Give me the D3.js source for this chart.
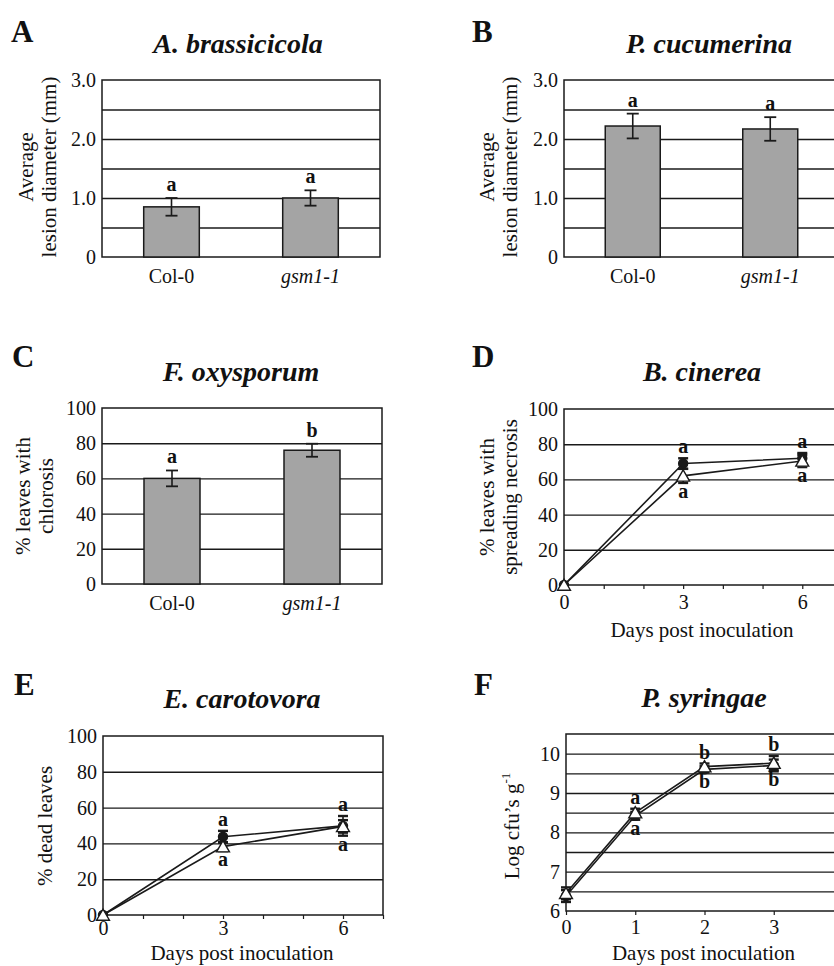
<!DOCTYPE html>
<html>
<head>
<meta charset="utf-8">
<script src="https://cdn.jsdelivr.net/npm/d3@7"></script>
<style>
body { margin: 0; background: #fff; }
svg { display: block; }
text { font-family: "Liberation Serif", "Times New Roman", serif; fill: #111; }
</style>
</head>
<body>
<div class="fig"></div>
<script>
// ---- data ----
var genotypes = ["Col-0", "gsm1-1"];

var brassicicolaLesion = [0.85, 1.0];
var brassicicolaErr = [0.15, 0.13];
var brassicicolaLetters = ["a", "a"];

var cucumerinaLesion = [2.22, 2.17];
var cucumerinaErr = [0.21, 0.2];
var cucumerinaLetters = ["a", "a"];

var oxysporumChlorosis = [60, 76];
var oxysporumErr = [4.5, 3.7];
var oxysporumLetters = ["a", "b"];

var cinereaDays = [0, 3, 6];
var cinereaCol0 = [0, 69, 72];
var cinereaCol0Err = [0, 3, 3];
var cinereaGsm = [0, 62, 70.5];
var cinereaGsmErr = [0, 4, 3.5];
var cinereaAbove = ["", "a", "a"];
var cinereaBelow = ["", "a", "a"];

var carotovoraDays = [0, 3, 6];
var carotovoraCol0 = [0, 43.7, 49.8];
var carotovoraCol0Err = [0, 3.3, 5.5];
var carotovoraGsm = [0, 38.2, 49.5];
var carotovoraGsmErr = [0, 2.5, 3.5];
var carotovoraAbove = ["", "a", "a"];
var carotovoraBelow = ["", "a", "a"];

var syringaeDays = [0, 1, 2, 3];
var syringaeCol0 = [6.38, 8.42, 9.6, 9.7];
var syringaeCol0Err = [0.15, 0.1, 0.08, 0.15];
var syringaeGsm = [6.45, 8.5, 9.67, 9.76];
var syringaeGsmErr = [0.15, 0.1, 0.08, 0.18];
var syringaeAbove = ["", "a", "b", "b"];
var syringaeBelow = ["", "a", "b", "b"];

var lesionTicks = [0, 1, 2, 3];
var lesionGrid = [0.5, 1, 1.5, 2, 2.5];
var percentTicks = [0, 20, 40, 60, 80, 100];
var percentGrid = [20, 40, 60, 80];
var cfuTicks = [6, 7, 8, 9, 10];
var cfuGrid = [6.5, 7, 7.5, 8, 8.5, 9, 9.5, 10];
var weekDays = [0, 1, 2, 3, 4, 5, 6, 7];
var weekLabels = [0, 3, 6];
var shortDays = [0, 1, 2, 3, 4];

var width = 834;
var height = 966;
var ink = "#1a1a1a";

var svg = d3.select(".fig")
    .append("svg")
    .attr("width", width)
    .attr("height", height);

function header(p) {
    svg.append("text")
        .attr("x", p.labelX).attr("y", p.labelY)
        .attr("font-size", 31).attr("font-weight", "bold")
        .text(p.id);
    svg.append("text")
        .attr("x", p.titleX).attr("y", p.titleY)
        .attr("text-anchor", "middle")
        .attr("font-size", 28).attr("font-weight", "bold").attr("font-style", "italic")
        .text(p.title);
}

function yLabel(p) {
    var t = svg.append("text")
        .attr("transform", "translate(" + p.ylabX + "," + p.ylabY + ") rotate(-90)")
        .attr("text-anchor", "middle")
        .attr("font-size", 21);
    var n = p.ylab.length;
    p.ylab.forEach(function (line, i) {
        var ts = t.append("tspan").attr("x", 0)
            .attr("dy", i == 0 ? (0.35 - (n - 1) * 0.56) + "em" : "1.12em");
        if (typeof line == "string") {
            ts.text(line);
        } else {
            // superscript unit (g^-1)
            ts.text(line.text);
            ts.append("tspan").attr("font-size", 13).attr("dy", "-0.7em").text(line.power);
        }
    });
}

// grid lines, frame and y tick labels
function frame(p, y) {
    var g = svg.append("g");
    g.append("g")
        .attr("transform", "translate(" + p.x0 + ",0)")
        .call(d3.axisLeft(y).tickValues(p.grid).tickSize(-(p.x1 - p.x0)).tickFormat(""))
        .call(function (s) { s.select(".domain").remove(); })
        .selectAll("line")
        .attr("stroke", ink).attr("stroke-width", 1.4);

    g.append("rect")
        .attr("x", p.x0).attr("y", p.y0)
        .attr("width", p.x1 - p.x0).attr("height", p.y1 - p.y0)
        .attr("fill", "none").attr("stroke", ink).attr("stroke-width", 1.5);

    var ax = g.append("g")
        .attr("transform", "translate(" + p.x0 + ",0)")
        .call(d3.axisLeft(y).tickValues(p.ticks).tickSize(0).tickPadding(6).tickFormat(p.fmt));
    ax.select(".domain").remove();
    ax.attr("font-family", null).attr("font-size", null);
    ax.selectAll("text").attr("font-size", 20).attr("fill", "#111");
    return g;
}

function barPanel(p) {
    header(p);
    yLabel(p);
    var y = d3.scaleLinear().domain([0, p.ymax]).range([p.y1, p.y0]);
    var x = d3.scaleBand().domain(genotypes).range([p.x0, p.x1]).paddingInner(0.6).paddingOuter(0.3);
    var g = frame(p, y);

    g.selectAll(".bar")
        .data(genotypes)
        .enter()
        .append("rect")
        .attr("x", function (d) { return x(d); })
        .attr("y", function (d, i) { return y(p.values[i]); })
        .attr("width", x.bandwidth())
        .attr("height", function (d, i) { return y(0) - y(p.values[i]); })
        .attr("fill", "#a4a4a4")
        .attr("stroke", ink)
        .attr("stroke-width", 1.5);

    genotypes.forEach(function (d, i) {
        var cx = x(d) + x.bandwidth() / 2;
        var hi = y(p.values[i] + p.err[i]);
        var lo = y(p.values[i] - p.err[i]);
        g.append("line").attr("x1", cx).attr("x2", cx).attr("y1", hi).attr("y2", lo)
            .attr("stroke", ink).attr("stroke-width", 1.6);
        [hi, lo].forEach(function (yy) {
            g.append("line").attr("x1", cx - 6).attr("x2", cx + 6).attr("y1", yy).attr("y2", yy)
                .attr("stroke", ink).attr("stroke-width", 1.8);
        });
        g.append("text")
            .attr("x", cx).attr("y", hi - 7)
            .attr("text-anchor", "middle")
            .attr("font-size", 20).attr("font-weight", "bold")
            .text(p.letters[i]);
    });

    var xa = g.append("g")
        .attr("transform", "translate(0," + p.y1 + ")")
        .call(d3.axisBottom(x).tickSize(0).tickPadding(12));
    xa.select(".domain").remove();
    xa.attr("font-family", null).attr("font-size", null);
    xa.selectAll("text")
        .attr("font-size", 20).attr("fill", "#111")
        .attr("font-style", function (d) { return d == "Col-0" ? "normal" : "italic"; });
}

function linePanel(p) {
    header(p);
    yLabel(p);
    var y = d3.scaleLinear().domain(p.ydomain).range([p.y1, p.y0]);
    var x = d3.scaleLinear().domain(p.xdomain).range([p.x0, p.x1]);
    var g = frame(p, y);

    var xa = g.append("g")
        .attr("transform", "translate(0," + p.y1 + ")")
        .call(d3.axisBottom(x).tickValues(p.xticks).tickSize(4).tickPadding(p.xpad)
            .tickFormat(function (d) { return p.xlabels.indexOf(d) >= 0 ? d : ""; }));
    xa.select(".domain").remove();
    xa.attr("font-family", null).attr("font-size", null);
    xa.selectAll("line").attr("stroke", ink).attr("stroke-width", 1.2);
    xa.selectAll("text").attr("font-size", 20).attr("fill", "#111");

    svg.append("text")
        .attr("x", (p.x0 + p.x1) / 2 - 1).attr("y", p.daysY)
        .attr("text-anchor", "middle").attr("font-size", 21)
        .text("Days post inoculation");

    var line = d3.line()
        .x(function (d) { return x(d[0]); })
        .y(function (d) { return y(d[1]); });

    p.series.forEach(function (s) {
        var pts = p.days.map(function (d, i) { return [d, s.values[i]]; });
        g.append("path").datum(pts)
            .attr("d", line)
            .attr("fill", "none").attr("stroke", ink).attr("stroke-width", 1.6);
    });

    p.series.forEach(function (s) {
        p.days.forEach(function (d, i) {
            if (!s.err[i]) return;
            var cx = x(d);
            var hi = y(s.values[i] + s.err[i]);
            var lo = y(s.values[i] - s.err[i]);
            g.append("line").attr("x1", cx).attr("x2", cx).attr("y1", hi).attr("y2", lo)
                .attr("stroke", ink).attr("stroke-width", 1.6);
            [hi, lo].forEach(function (yy) {
                g.append("line").attr("x1", cx - 5).attr("x2", cx + 5).attr("y1", yy).attr("y2", yy)
                    .attr("stroke", ink).attr("stroke-width", 2.4);
            });
        });
    });

    p.series.forEach(function (s) {
        var sym = d3.symbol().type(s.shape == "circle" ? d3.symbolCircle : d3.symbolTriangle)
            .size(s.shape == "circle" ? 64 : 72);
        g.selectAll(null)
            .data(p.days)
            .enter()
            .append("path")
            .attr("d", sym)
            .attr("transform", function (d, i) {
                var off = s.shape == "circle" ? 0 : 1.5;
                return "translate(" + x(d) + "," + (y(s.values[i]) + off) + ")";
            })
            .attr("fill", s.shape == "circle" ? ink : "#fff")
            .attr("stroke", ink)
            .attr("stroke-width", 1.4);
    });

    p.days.forEach(function (d, i) {
        var tops = p.series.map(function (s) { return y(s.values[i] + s.err[i]); });
        var bots = p.series.map(function (s) { return y(s.values[i] - s.err[i]); });
        g.append("text")
            .attr("x", x(d)).attr("y", d3.min(tops) - 5)
            .attr("text-anchor", "middle").attr("font-size", 20).attr("font-weight", "bold")
            .text(p.above[i]);
        g.append("text")
            .attr("x", x(d)).attr("y", d3.max(bots) + 15)
            .attr("text-anchor", "middle").attr("font-size", 20).attr("font-weight", "bold")
            .text(p.below[i]);
    });
}

var lesionFmt = function (d) { return d == 0 ? "0" : d.toFixed(1); };

barPanel({
    id: "A", title: "A. brassicicola",
    labelX: 11, labelY: 42, titleX: 238, titleY: 53,
    x0: 102, x1: 380, y0: 80, y1: 257, ymax: 3,
    ticks: lesionTicks, grid: lesionGrid, fmt: lesionFmt,
    ylab: ["Average", "lesion diameter (mm)"], ylabX: 37, ylabY: 167,
    values: brassicicolaLesion, err: brassicicolaErr, letters: brassicicolaLetters
});

barPanel({
    id: "B", title: "P. cucumerina",
    labelX: 472, labelY: 42, titleX: 709, titleY: 53,
    x0: 564, x1: 839, y0: 80, y1: 257, ymax: 3,
    ticks: lesionTicks, grid: lesionGrid, fmt: lesionFmt,
    ylab: ["Average", "lesion diameter (mm)"], ylabX: 498, ylabY: 167,
    values: cucumerinaLesion, err: cucumerinaErr, letters: cucumerinaLetters
});

barPanel({
    id: "C", title: "F. oxysporum",
    labelX: 12, labelY: 367, titleX: 241, titleY: 381,
    x0: 102, x1: 382, y0: 408, y1: 584, ymax: 100,
    ticks: percentTicks, grid: percentGrid, fmt: d3.format("d"),
    ylab: ["% leaves with", "chlorosis"], ylabX: 34, ylabY: 496,
    values: oxysporumChlorosis, err: oxysporumErr, letters: oxysporumLetters
});

linePanel({
    id: "D", title: "B. cinerea",
    labelX: 472, labelY: 367, titleX: 702, titleY: 381,
    x0: 564, x1: 842, y0: 409, y1: 585,
    xdomain: [0, 7], ydomain: [0, 100], xticks: weekDays, xlabels: weekLabels, xpad: 6, daysY: 637,
    ticks: percentTicks, grid: percentGrid, fmt: d3.format("d"),
    ylab: ["% leaves with", "spreading necrosis"], ylabX: 498, ylabY: 497,
    days: cinereaDays,
    series: [
        { shape: "circle", values: cinereaCol0, err: cinereaCol0Err },
        { shape: "triangle", values: cinereaGsm, err: cinereaGsmErr }
    ],
    above: cinereaAbove, below: cinereaBelow
});

linePanel({
    id: "E", title: "E. carotovora",
    labelX: 14, labelY: 695, titleX: 242, titleY: 708,
    x0: 103, x1: 383, y0: 736, y1: 915,
    xdomain: [0, 7], ydomain: [0, 100], xticks: weekDays, xlabels: weekLabels, xpad: 2, daysY: 960,
    ticks: percentTicks, grid: percentGrid, fmt: d3.format("d"),
    ylab: ["% dead leaves"], ylabX: 45, ylabY: 826,
    days: carotovoraDays,
    series: [
        { shape: "circle", values: carotovoraCol0, err: carotovoraCol0Err },
        { shape: "triangle", values: carotovoraGsm, err: carotovoraGsmErr }
    ],
    above: carotovoraAbove, below: carotovoraBelow
});

linePanel({
    id: "F", title: "P. syringae",
    labelX: 474, labelY: 695, titleX: 704, titleY: 707,
    x0: 566, x1: 843, y0: 734, y1: 911,
    xdomain: [0, 4], ydomain: [6, 10.5], xticks: shortDays, xlabels: [0, 1, 2, 3], xpad: 5, daysY: 960,
    ticks: cfuTicks, grid: cfuGrid, fmt: d3.format("d"),
    ylab: [{ text: "Log cfu\u2019s g", power: "-1" }], ylabX: 512, ylabY: 826,
    days: syringaeDays,
    series: [
        { shape: "circle", values: syringaeCol0, err: syringaeCol0Err },
        { shape: "triangle", values: syringaeGsm, err: syringaeGsmErr }
    ],
    above: syringaeAbove, below: syringaeBelow
});
</script>
</body>
</html>
